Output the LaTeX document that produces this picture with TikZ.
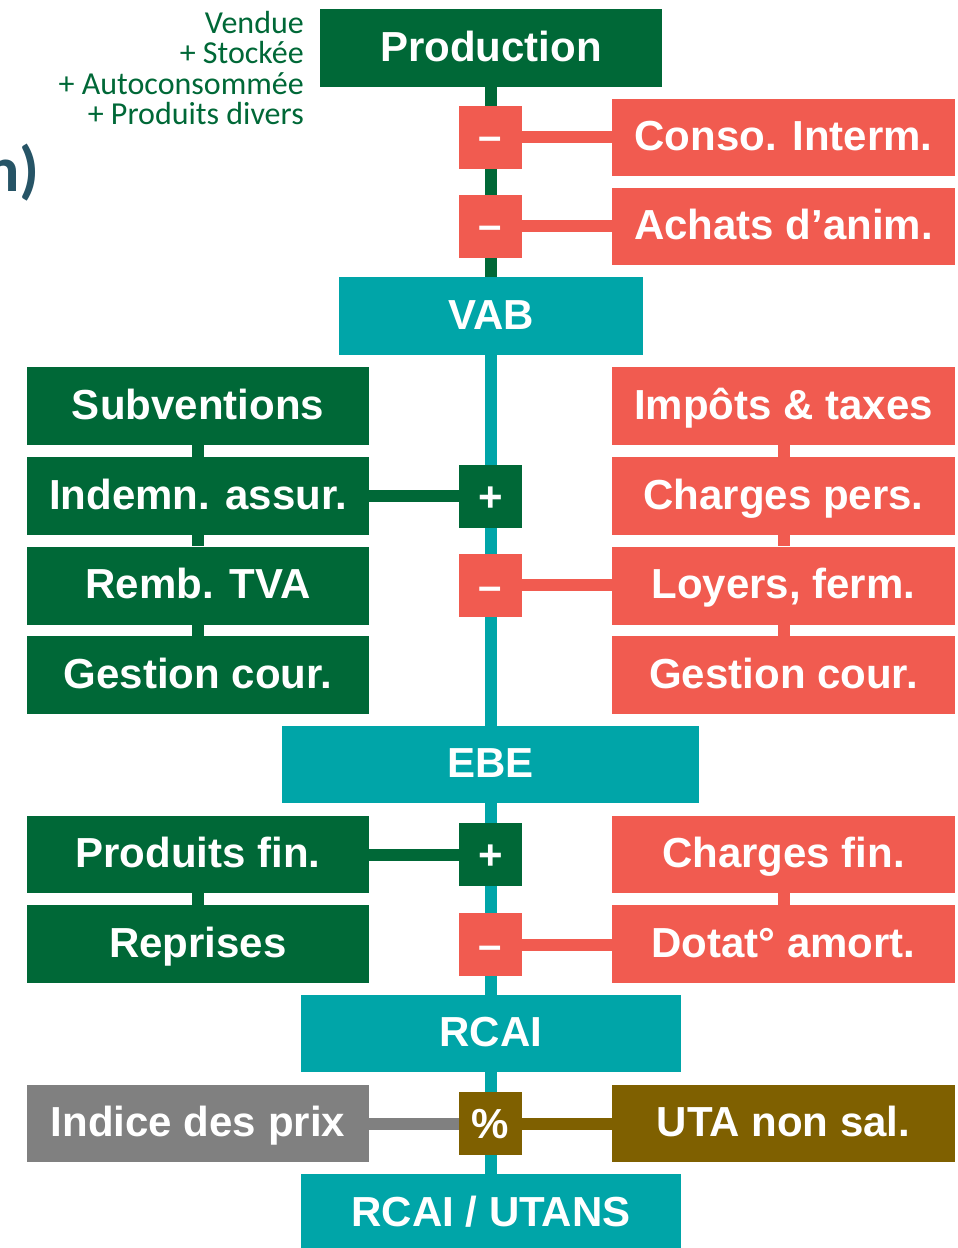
\documentclass[tikz,border=0pt]{standalone}
\usepackage{fontspec}
\setmainfont{Liberation Sans}
\newfontfamily\carlitofont{Carlito}
\usetikzlibrary{backgrounds}
\definecolor{dgreen}{RGB}{0,104,55}
\definecolor{salmon}{RGB}{241,91,80}
\definecolor{tealc}{RGB}{0,165,168}
\definecolor{pgray}{RGB}{128,128,128}
\definecolor{brownc}{RGB}{127,96,0}
\definecolor{slate}{RGB}{38,84,102}
\tikzset{
  bx/.style={fill=#1, inner sep=0pt, text=white,
    font=\fontsize{42}{48}\selectfont\bfseries,
    text height=26pt, text depth=0pt},
  wide/.style={minimum width=342pt, minimum height=78pt},
  op/.style={minimum width=63pt, minimum height=63pt},
  conn/.style={line width=12pt, draw=#1},
  side/.style={anchor=base east, inner sep=0pt, text=dgreen, font=\carlitofont\fontsize{32}{32}\selectfont},
}
\begin{document}
\begin{tikzpicture}[x=1pt,y=-1pt]
\useasboundingbox (0,0) rectangle (958,1248);
% title fragment
\node[anchor=base east, inner sep=0pt, text=slate, font=\carlitofont\bfseries\fontsize{64}{64}\selectfont] (ttl) at (40,191) {n)};
% side text
\node[side] (s1) at (304,33) {Vendue};
\node[side] (s2) at (304,63.5) {+ Stockée};
\node[side] (s3) at (304,94) {+ Autoconsommée};
\node[side] (s4) at (304,124.5) {+ Produits divers};
% main column
\node[bx=dgreen, wide] (prod) at (491,48) {Production};
\node[bx=salmon, op] (m1) at (490.5,137) {–};
\node[bx=salmon, op] (m2) at (490.5,226) {–};
\node[bx=salmon, minimum width=343pt, minimum height=77pt] (ci) at (783.5,137.5) {Conso. Interm.};
\node[bx=salmon, minimum width=343pt, minimum height=77pt] (aa) at (783.5,226.5) {Achats d’anim.};
\node[bx=tealc, minimum width=304pt, minimum height=78pt] (vab) at (491,316) {VAB};
% left column 1
\node[bx=dgreen, wide] (sub) at (198,406) {Subventions};
\node[bx=dgreen, wide] (ind) at (198,496) {Indemn. assur.};
\node[bx=dgreen, wide] (tva) at (198,585.5) {Remb. TVA};
\node[bx=dgreen, wide] (gcl) at (198,675) {Gestion cour.};
% right column 1
\node[bx=salmon, wide, minimum width=343pt] (imp) at (783.5,406) {Impôts \& taxes};
\node[bx=salmon, wide, minimum width=343pt] (chp) at (783.5,496) {Charges pers.};
\node[bx=salmon, wide, minimum width=343pt] (loy) at (783.5,585.5) {Loyers, ferm.};
\node[bx=salmon, wide, minimum width=343pt] (gcr) at (783.5,675) {Gestion cour.};
\node[bx=dgreen, op, text height=30pt] (p1) at (490.5,496) {+};
\node[bx=salmon, op, text height=30pt] (m3) at (490.5,585) {–};
\node[bx=tealc, minimum width=417pt, minimum height=77pt] (ebe) at (490.5,764.5) {EBE};
% second group
\node[bx=dgreen, wide, minimum height=77pt] (pf) at (198,854.5) {Produits fin.};
\node[bx=dgreen, wide] (rep) at (198,944) {Reprises};
\node[bx=salmon, wide, minimum width=343pt, minimum height=77pt] (cf) at (783.5,854.5) {Charges fin.};
\node[bx=salmon, wide, minimum width=343pt] (dot) at (783.5,944) {Dotat° amort.};
\node[bx=dgreen, op, text height=30pt] (p2) at (490.5,854.5) {+};
\node[bx=salmon, op, text height=30pt] (m4) at (490.5,944.5) {–};
\node[bx=tealc, minimum width=380pt, minimum height=77pt] (rcai) at (491,1033.5) {RCAI};
% last group
\node[bx=pgray, wide, minimum height=77pt] (ipx) at (198,1123.5) {Indice des prix};
\node[bx=brownc, op, text height=30pt] (pc) at (490.5,1123.5) {\%};
\node[bx=brownc, minimum width=343pt, minimum height=77pt] (uta) at (783.5,1123.5) {UTA non sal.};
\node[bx=tealc, minimum width=380pt, minimum height=78pt] (rcu) at (491,1213) {RCAI / UTANS};
% connectors
\begin{scope}[on background layer]
  \draw[conn=dgreen] (prod.south) -- (vab.north);
  \draw[conn=tealc] (vab.south) -- (rcu.north);
  \draw[conn=salmon] (m1.center) -- (m1.center -| ci.west);
  \draw[conn=salmon] (m2.center) -- (m2.center -| aa.west);
  \draw[conn=dgreen] (sub.south) -- (ind.north);
  \draw[conn=dgreen] (ind.south) -- (tva.north);
  \draw[conn=dgreen] (tva.south) -- (gcl.north);
  \draw[conn=salmon] (imp.south) -- (chp.north);
  \draw[conn=salmon] (chp.south) -- (loy.north);
  \draw[conn=salmon] (loy.south) -- (gcr.north);
  \draw[conn=dgreen] (ind.east) -- (p1.center);
  \draw[conn=salmon] (m3.center) -- (m3.center -| loy.west);
  \draw[conn=dgreen] (pf.south) -- (rep.north);
  \draw[conn=salmon] (cf.south) -- (dot.north);
  \draw[conn=dgreen] (pf.east) -- (p2.center);
  \draw[conn=salmon] (m4.center) -- (m4.center -| dot.west);
  \draw[conn=pgray] (ipx.east) -- (pc.center);
  \draw[conn=brownc] (pc.center) -- (uta.west);
\end{scope}
\end{tikzpicture}
\end{document}
